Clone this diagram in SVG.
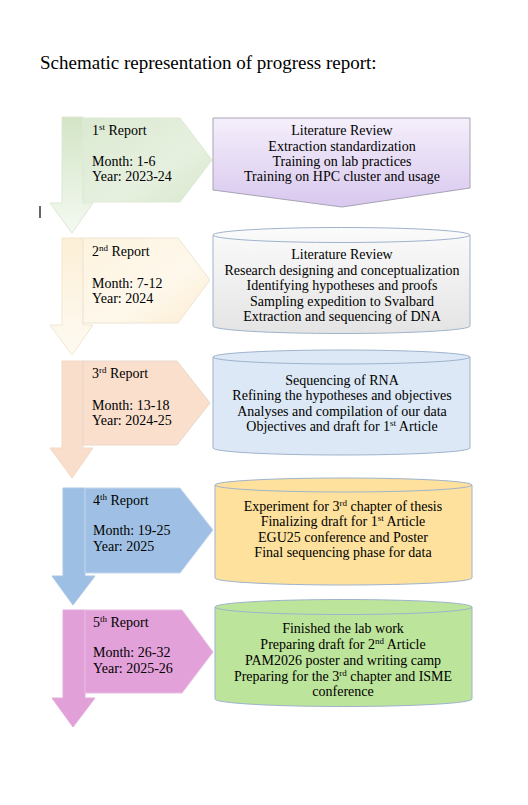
<svg xmlns="http://www.w3.org/2000/svg" width="528" height="805" viewBox="0 0 528 805">
<defs>
<linearGradient id="g1v" x1="0" y1="0" x2="0" y2="1"><stop offset="0" stop-color="#d3e5c6"/><stop offset="1" stop-color="#f4f9f1"/></linearGradient>
<linearGradient id="g1p" x1="0" y1="0" x2="1" y2="1"><stop offset="0" stop-color="#dbe9d1"/><stop offset="0.6" stop-color="#e6f0df"/><stop offset="1" stop-color="#d8e7cd"/></linearGradient>
<linearGradient id="g2v" x1="0" y1="0" x2="0" y2="1"><stop offset="0" stop-color="#fcefd6"/><stop offset="1" stop-color="#fefaf2"/></linearGradient>
<linearGradient id="g2p" x1="0" y1="0" x2="1" y2="1"><stop offset="0" stop-color="#fdf3df"/><stop offset="0.6" stop-color="#fef8ec"/><stop offset="1" stop-color="#fcecd0"/></linearGradient>
<linearGradient id="gb1" x1="0" y1="0" x2="0" y2="1"><stop offset="0" stop-color="#f5effb"/><stop offset="1" stop-color="#d8c8ee"/></linearGradient>
<linearGradient id="gb2" x1="0" y1="0" x2="0" y2="1"><stop offset="0" stop-color="#fbfbfb"/><stop offset="1" stop-color="#e4e4e4"/></linearGradient>
</defs>
<style>
text{font-family:"Liberation Serif","Times New Roman",serif;fill:#000}
.lbl{font-size:14px}
.box{font-size:14px;text-anchor:middle}
.sup{font-size:9px}
.title{font-size:19px}
.cyl{stroke:#9fb3cc;stroke-width:1}
</style>
<text class="title" x="40" y="69">Schematic representation of progress report:</text>
<line x1="40" y1="206" x2="40" y2="218" stroke="#000" stroke-width="1.2"/>

<g id="connectors">
<polygon points="62,117 83,117 83,203 93,203 72,233 50,203 62,203" fill="url(#g1v)" stroke="#dce8d4" stroke-width="1"/>
<polygon points="62,238 83,238 83,325 93,325 72,355 50,325 62,325" fill="url(#g2v)" stroke="#f3e7cf" stroke-width="1"/>
<polygon points="62,361 83,361 83,448 93,448 72,478 50,448 62,448" fill="#f9dfcb" stroke="#f3d8c4" stroke-width="1"/>
<polygon points="63,488 85,488 85,576 95,576 73,605 52,576 63,576" fill="#9dbfe3" stroke="#a9c6e6" stroke-width="1"/>
<polygon points="63,610 85,610 85,698 95,698 73,727 52,698 63,698" fill="#e2a0d8" stroke="#e3a9db" stroke-width="1"/>
</g>

<g id="report1">
<polygon points="83,118 180,118 212,160 180,202 83,202" fill="url(#g1p)" stroke="#dde9d5" stroke-width="1"/>
<text class="lbl" x="92" y="135">1<tspan class="sup" dy="-5">st</tspan><tspan dy="5"> Report</tspan></text>
<text class="lbl" x="92" y="166">Month: 1-6</text>
<text class="lbl" x="92" y="181">Year: 2023-24</text>
</g>
<g id="report2">
<polygon points="83,238 178,238 210,280 178,323 83,323" fill="url(#g2p)" stroke="#ece4d4" stroke-width="1"/>
<text class="lbl" x="92" y="256">2<tspan class="sup" dy="-5">nd</tspan><tspan dy="5"> Report</tspan></text>
<text class="lbl" x="92" y="288">Month: 7-12</text>
<text class="lbl" x="92" y="303">Year: 2024</text>
</g>
<g id="report3">
<polygon points="83,361 177,361 210,403 177,445 83,445" fill="#f9dfcc" stroke="#e9d8cc" stroke-width="1"/>
<text class="lbl" x="92" y="378">3<tspan class="sup" dy="-5">rd</tspan><tspan dy="5"> Report</tspan></text>
<text class="lbl" x="92" y="410">Month: 13-18</text>
<text class="lbl" x="92" y="425">Year: 2024-25</text>
</g>
<g id="report4">
<polygon points="85,488 180,488 213,530 180,573 85,573" fill="#9fc0e4" stroke="#c3d6ec" stroke-width="1"/>
<text class="lbl" x="93" y="505">4<tspan class="sup" dy="-5">th</tspan><tspan dy="5"> Report</tspan></text>
<text class="lbl" x="93" y="535">Month: 19-25</text>
<text class="lbl" x="93" y="551">Year: 2025</text>
</g>
<g id="report5">
<polygon points="85,610 182,610 213,652 182,693 85,693" fill="#e3a1d9" stroke="#e8bde2" stroke-width="1"/>
<text class="lbl" x="93" y="627">5<tspan class="sup" dy="-5">th</tspan><tspan dy="5"> Report</tspan></text>
<text class="lbl" x="93" y="657">Month: 26-32</text>
<text class="lbl" x="93" y="673">Year: 2025-26</text>
</g>

<g id="box1">
<polygon points="213,118 470,118 470,188 342,207 213,190" fill="url(#gb1)" stroke="#a8a3b4" stroke-width="1"/>
<text class="box" x="342" y="135">Literature Review</text>
<text class="box" x="342" y="151">Extraction standardization</text>
<text class="box" x="342" y="166">Training on lab practices</text>
<text class="box" x="342" y="181">Training on HPC cluster and usage</text>
</g>
<g id="box2">
<path class="cyl" d="M213,235 L213,326 A128.5,7.5 0 0 0 470,326 L470,235 A128.5,7.5 0 0 0 213,235 Z" fill="url(#gb2)"/>
<path class="cyl" d="M213,235 A128.5,7.5 0 0 0 470,235" fill="none"/>
<text class="box" x="342" y="259">Literature Review</text>
<text class="box" x="342" y="275">Research designing and conceptualization</text>
<text class="box" x="342" y="290">Identifying hypotheses and proofs</text>
<text class="box" x="342" y="306">Sampling expedition to Svalbard</text>
<text class="box" x="342" y="321">Extraction and sequencing of DNA</text>
</g>
<g id="box3">
<path class="cyl" d="M213,357 L213,448 A128.5,7 0 0 0 470,448 L470,357 A128.5,7 0 0 0 213,357 Z" fill="#dce8f5"/>
<path class="cyl" d="M213,357 A128.5,7 0 0 0 470,357" fill="none"/>
<text class="box" x="342" y="385">Sequencing of RNA</text>
<text class="box" x="342" y="400">Refining the hypotheses and objectives</text>
<text class="box" x="342" y="416">Analyses and compilation of our data</text>
<text class="box" x="342" y="431">Objectives and draft for 1<tspan class="sup" dy="-5">st</tspan><tspan dy="5"> Article</tspan></text>
</g>
<g id="box4">
<path class="cyl" d="M215,485 L215,578 A128.5,7 0 0 0 472,578 L472,485 A128.5,7 0 0 0 215,485 Z" fill="#fde19c"/>
<path class="cyl" d="M215,485 A128.5,7 0 0 0 472,485" fill="none"/>
<text class="box" x="343" y="511">Experiment for 3<tspan class="sup" dy="-5">rd</tspan><tspan dy="5"> chapter of thesis</tspan></text>
<text class="box" x="343" y="526">Finalizing draft for 1<tspan class="sup" dy="-5">st</tspan><tspan dy="5"> Article</tspan></text>
<text class="box" x="343" y="542">EGU25 conference and Poster</text>
<text class="box" x="343" y="557">Final sequencing phase for data</text>
</g>
<g id="box5">
<path class="cyl" d="M215,607 L215,699 A128.5,7.5 0 0 0 472,699 L472,607 A128.5,7.5 0 0 0 215,607 Z" fill="#bde49b"/>
<path class="cyl" d="M215,607 A128.5,7.5 0 0 0 472,607" fill="none"/>
<text class="box" x="343" y="633">Finished the lab work</text>
<text class="box" x="343" y="649">Preparing draft for 2<tspan class="sup" dy="-5">nd</tspan><tspan dy="5"> Article</tspan></text>
<text class="box" x="343" y="665">PAM2026 poster and writing camp</text>
<text class="box" x="343" y="681">Preparing for the 3<tspan class="sup" dy="-5">rd</tspan><tspan dy="5"> chapter and ISME</tspan></text>
<text class="box" x="343" y="696">conference</text>
</g>
</svg>
